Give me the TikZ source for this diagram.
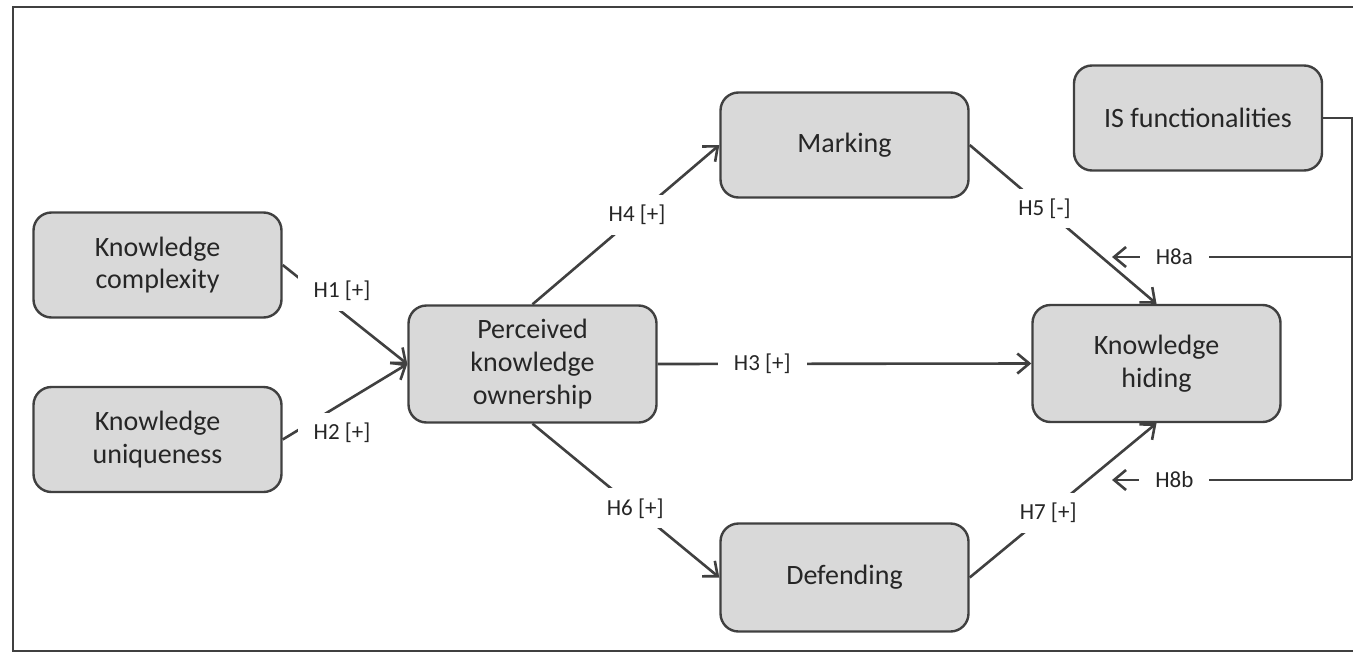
\documentclass[tikz,border=0pt]{standalone}
\usepackage{fontspec}
\setmainfont{Carlito}
\usetikzlibrary{arrows.meta}

\definecolor{boxgray}{HTML}{D9D9D9}
\definecolor{linegray}{HTML}{404040}
\newcommand{\boxfont}{\fontsize{14}{16.4}\selectfont}
\newcommand{\hypfont}{\fontsize{11.5}{13}\selectfont}

\tikzset{
  box/.style={draw=linegray, fill=boxgray, line width=1.2pt, rounded corners=9pt,
    minimum width=124pt, minimum height=52.5pt, align=center, font=\boxfont, text=black!85},
  tallbox/.style={box, minimum height=58.5pt},
  conn/.style={draw=linegray, line width=1.3pt},
  arr/.style={conn, -{Straight Barb[length=6pt,width=10pt]}},
  hyp/.style={fill=white, font=\hypfont, text=black!85, inner xsep=8pt, inner ysep=5pt},
}

\begin{document}
\begin{tikzpicture}[x=0.5pt, y=-0.5pt]
  \useasboundingbox (0,0) rectangle (1353,653);
  % outer frame (open on the right)
  \draw[line width=1.4pt, black!75] (1353,7) -- (13,7) -- (13,651) -- (1353,651);

  % constructs
  \node[box] (complex) at (157.5,265) {Knowledge\\complexity};
  \node[box] (unique) at (157.5,439.5) {Knowledge\\uniqueness};
  \node[tallbox] (pko) at (532.5,364) {Perceived\\knowledge\\ownership};
  \node[box] (marking) at (844.5,145) {Marking};
  \node[box, minimum height=54pt] (defending) at (844.5,577.5) {Defending};
  \node[tallbox] (hiding) at (1156.5,363.5) {Knowledge\\hiding};
  \node[box] (isf) at (1198,118) {IS functionalities};

  % hypotheses
  \draw[arr] (complex.east) -- node[hyp, pos=0.3, xshift=11pt, yshift=2pt] {H1 [+]} (pko.west);
  \draw[arr] (unique.east) -- node[hyp, pos=0.3, xshift=11pt, yshift=-8pt] {H2 [+]} (pko.west);
  \draw[arr] (pko.east) -- node[hyp, pos=0.28] {H3 [+]} (hiding.west);
  \draw[arr] (pko.north) -- node[hyp, pos=0.56] {H4 [+]} (marking.west);
  \draw[arr] (marking.east) -- node[hyp, pos=0.4] {H5 [-]} (hiding.north);
  \draw[arr] (pko.south) -- node[hyp, pos=0.55] {H6 [+]} (defending.west);
  \draw[arr] (defending.east) -- node[hyp, pos=0.42] {H7 [+]} (hiding.south);

  % IS functionalities as moderator
  \coordinate (h8a) at (1352,257);
  \coordinate (h8b) at (1352,480);
  \coordinate (h8atip) at (1112,257);
  \coordinate (h8btip) at (1112,480);
  \draw[conn] (isf.east) -| (h8b);
  \draw[arr] (h8a) -- node[hyp, pos=0.74] {H8a} (h8atip);
  \draw[arr] (h8b) -- node[hyp, pos=0.74] {H8b} (h8btip);
\end{tikzpicture}
\end{document}
